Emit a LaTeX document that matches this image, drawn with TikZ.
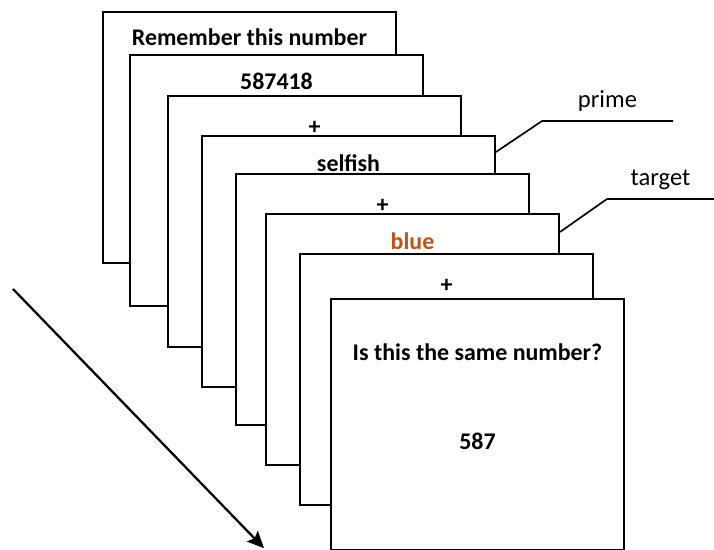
\documentclass[tikz,border=0pt]{standalone}
\usepackage{fontspec}
\setmainfont{Carlito}
\usepackage{tikz}
\usetikzlibrary{arrows.meta}
\definecolor{wordred}{RGB}{196,80,22}

\begin{document}
\begin{tikzpicture}[>={Stealth[length=0.42cm,width=0.38cm,inset=0.08cm]},
  card/.style={draw, fill=white, line width=1.4pt, anchor=north west,
    minimum width=7.325cm, minimum height=6.275cm, inner sep=0pt},
  word/.style={font=\bfseries\fontsize{17}{20}\selectfont, anchor=base, inner sep=0pt},
  lbl/.style={font=\fontsize{17.5}{20}\selectfont, anchor=base, inner sep=0pt, yshift=0.35cm}]
  \useasboundingbox (0,0) rectangle (17.85,13.725);
  \node[card] (card1) at (2.55,13.45) {};
  \node[word] (txt1) at ([yshift=-0.85cm]card1.north) {Remember this number};
  \node[card] (card2) at (3.225,12.375) {};
  \node[word] (txt2) at ([yshift=-0.875cm]card2.north) {587418};
  \node[card] (card3) at (4.175,11.35) {};
  \node[word] (txt3) at ([yshift=-0.975cm]card3.north) {+};
  \node[card] (card4) at (5.025,10.35) {};
  \node[word] (txt4) at ([yshift=-0.9cm]card4.north) {selfish};
  \node[card] (card5) at (5.875,9.4) {};
  \node[word] (txt5) at ([yshift=-0.975cm]card5.north) {+};
  \node[card] (card6) at (6.625,8.4) {};
  \node[word, text=wordred] (txt6) at ([yshift=-0.9cm]card6.north) {blue};
  \node[card] (card7) at (7.475,7.4) {};
  \node[word] (txt7) at ([yshift=-0.975cm]card7.north) {+};
  \node[card] (card8) at (8.25,6.275) {};
  \node[word] (ask) at ([yshift=-1.55cm]card8.north) {Is this the same number?};
  \node[word] (probe) at ([yshift=-3.775cm]card8.north) {587};
  % labels
  \coordinate (pknee) at (13.55,10.7);
  \coordinate (pend) at (16.825,10.7);
  \draw[line width=1.2pt] ([yshift=-0.425cm]card4.north east) -- (pknee)
    -- node[lbl] (prime) {prime} (pend);
  \coordinate (tknee) at (15.175,8.75);
  \coordinate (tend) at (17.85,8.75);
  \draw[line width=1.2pt] ([yshift=-0.475cm]card6.north east) -- (tknee)
    -- node[lbl] (target) {target} (tend);
  % time
  \coordinate (tstart) at (0.325,6.5);
  \coordinate (tstop) at (6.6,0.02);
  \draw[->, line width=1.6pt] (tstart) -- (tstop);
\end{tikzpicture}
\end{document}
